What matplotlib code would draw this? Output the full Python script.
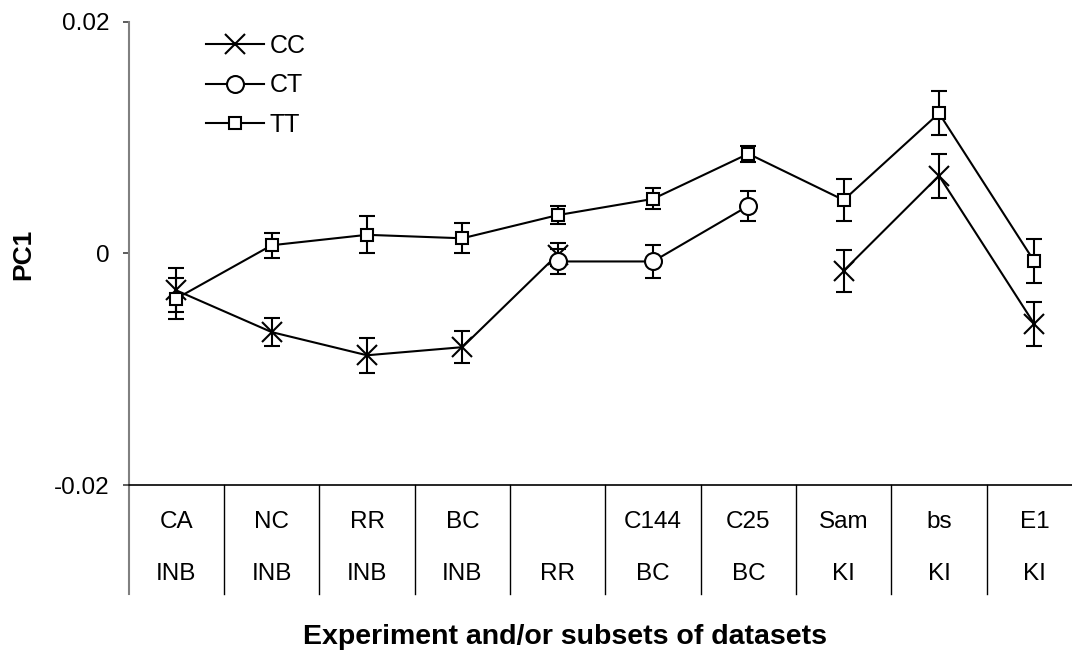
import numpy as np
import matplotlib
matplotlib.use("Agg")
import matplotlib.pyplot as plt
from matplotlib.transforms import blended_transform_factory

plt.rcParams['font.family'] = ['Liberation Sans', 'DejaVu Sans']

nan = np.nan
row1 = ["CA", "NC", "RR", "BC", "", "C144", "C25", "Sam", "bs", "E1"]
row2 = ["INB", "INB", "INB", "INB", "RR", "BC", "BC", "KI", "KI", "KI"]

cc = [-0.0032, -0.0068, -0.0088, -0.0081, -0.0001, nan, nan, -0.0015, 0.0067, -0.0061]
cc_err = [0.0019, 0.0012, 0.0015, 0.0014, 0.0010, nan, nan, 0.0018, 0.0019, 0.0019]
ct = [nan, nan, nan, nan, -0.0007, -0.0007, 0.0041, nan, nan, nan]
ct_err = [nan, nan, nan, nan, 0.0011, 0.0014, 0.0013, nan, nan, nan]
tt = [-0.0039, 0.0007, 0.0016, 0.0013, 0.0033, 0.0047, 0.0086, 0.0046, 0.0121, -0.0007]
tt_err = [0.0018, 0.0011, 0.0016, 0.0013, 0.0008, 0.0009, 0.0007, 0.0018, 0.0019, 0.0019]

yticks = [-0.02, 0, 0.02]
ytick_labels = ["-0.02", "0", "0.02"]

W, H = 1072, 651
fig = plt.figure(figsize=(W / 100, H / 100), dpi=100)
left_px, right_px, top_px, bot_px = 128.7, 1082, 21.7, 485
ax = fig.add_axes([left_px / W, (H - bot_px) / H, (right_px - left_px) / W, (bot_px - top_px) / H])

x = np.arange(len(row1))
ax.set_xlim(-0.5, len(row1) - 0.5)
ax.set_ylim(-0.02, 0.02)

ekw = dict(fmt='none', ecolor='black', elinewidth=1.5, capsize=6, capthick=1.5, zorder=1)
ax.errorbar(x, cc, yerr=cc_err, **ekw)
ax.errorbar(x, ct, yerr=ct_err, **ekw)
ax.errorbar(x, tt, yerr=tt_err, **ekw)

h_cc, = ax.plot(x, cc, color='black', lw=1.5, marker='x', ms=14, mew=1.5, zorder=2, label='CC')
h_ct, = ax.plot(x, ct, color='black', lw=1.5, marker='o', ms=12.2, mew=1.5, mfc='white', zorder=3, label='CT')
h_tt, = ax.plot(x, tt, color='black', lw=1.5, marker='s', ms=9.1, mew=1.5, mfc='white', zorder=4, label='TT')

for s in ['top', 'right']:
    ax.spines[s].set_visible(False)
ax.spines['bottom'].set_color('black')
ax.spines['bottom'].set_linewidth(1.2)
ax.spines['left'].set_color('#808080')
ax.spines['left'].set_linewidth(1.5)

ax.set_xticks([])
ax.set_yticks(yticks)
ax.set_yticklabels(ytick_labels)
ax.tick_params(axis='y', direction='out', length=4.5, width=1.2, color='#404040', pad=9, labelsize=17.5)

# category table below axis
trans = blended_transform_factory(ax.transData, ax.transAxes)
axh = bot_px - top_px
table_bottom = -(594 - bot_px) / axh
ax.plot([0, 0], [0, table_bottom], transform=ax.transAxes, color='#808080', lw=1.5, clip_on=False)
for b in np.arange(0.5, len(row1) - 0.5, 1.0):
    ax.plot([b, b], [0, table_bottom], transform=trans, color='black', lw=1.0, clip_on=False)
y1 = -(521.7 - bot_px) / axh
y2 = -(574 - bot_px) / axh
for i in range(len(row1)):
    ax.text(x[i], y1, row1[i], transform=trans, ha='center', va='center', fontsize=17.5)
    ax.text(x[i], y2, row2[i], transform=trans, ha='center', va='center', fontsize=17.5)

fig.text(23 / W, (H - 254) / H, "PC1", rotation=90, ha='center', va='center', fontsize=19, fontweight='bold')
fig.text(565 / W, (H - 644.5) / H, "Experiment and/or subsets of datasets", ha='center', va='baseline',
         fontsize=20.5, fontweight='bold')

leg = ax.legend(handles=[h_cc, h_ct, h_tt], loc='upper left', bbox_to_anchor=(206 / W, (H - 34) / H),
                bbox_transform=fig.transFigure, frameon=False, fontsize=18, handlelength=2.3,
                handletextpad=0.25, borderaxespad=0, borderpad=0, labelspacing=0.62)

fig.savefig("out.png", dpi=100)
